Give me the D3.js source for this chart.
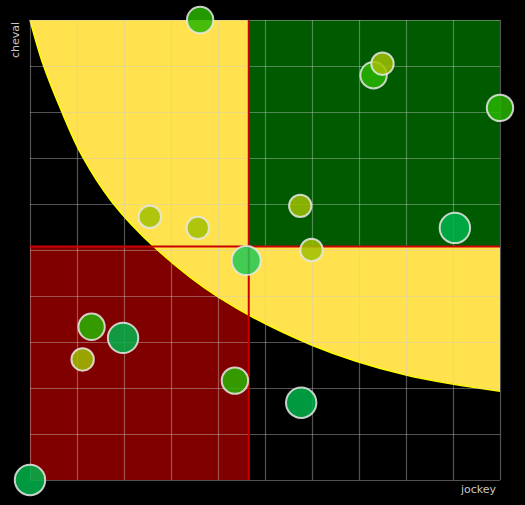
<!DOCTYPE html>
<html>
<head>
<meta charset="utf-8">
<script src="https://cdn.jsdelivr.net/npm/d3@7/dist/d3.min.js"></script>
<style>
  html, body { margin: 0; padding: 0; background: #000; }
  svg { display: block; }
</style>
</head>
<body>
<svg id="chart" width="525" height="505"></svg>
<script>
// ---- data ----
const jockey = [3.62, 2.55, 3.57, 4.60, 1.31, 1.98, 1.12, 4.36, 0.00, 5.77, 5.99, 5.75, 9.04, 10.00, 7.31, 7.50];
const cheval = [10.00, 5.72, 5.48, 4.77, 3.33, 3.09, 2.62, 2.16, 0.00, 1.68, 5.00, 5.96, 5.48, 8.09, 8.80, 9.05];
const groupe = ["moyen", "faible", "faible", "top", "moyen", "fort", "faible", "moyen", "fort", "fort", "faible", "faible", "fort", "moyen", "moyen", "faible"];
const groupes = ["faible", "moyen", "fort", "top"];

// yellow frontier (jockey, cheval)
const frontierJockey = [0, 0.28, 0.67, 1.10, 1.74, 2.66, 4.00, 6.00, 8.00, 10.00];
const frontierCheval = [10, 9.03, 8.02, 7.06, 6.05, 5.05, 3.98, 2.93, 2.28, 1.93];

const axisTicks = [0, 1, 2, 3, 4, 5, 6, 7, 8, 9, 10];

(function () {
// ---- layout ----
const svg = d3.select("#chart");
const mL = 30, mR = 500, mT = 20, mB = 480;
const x = d3.scaleLinear().domain([0, 10]).range([mL, mR]);
const y = d3.scaleLinear().domain([0, 10]).range([mB, mT]);
const rScale = d3.scaleOrdinal().domain(groupes).range([11.2, 13.2, 15.2, 14.5]);
const cScale = d3.scaleOrdinal().domain(groupes).range(["#a0c000", "#28b400", "#00b44a", "#22c855"]);

const points = jockey.map((j, i) => ({ j, c: cheval[i], g: groupe[i] }));
const meanJ = d3.mean(jockey), meanC = d3.mean(cheval);

svg.append("rect").attr("width", 525).attr("height", 505).attr("fill", "#000");

// red quadrant (bottom-left)
svg.append("rect")
  .attr("x", x(0)).attr("y", y(meanC))
  .attr("width", x(meanJ) - x(0)).attr("height", y(0) - y(meanC))
  .attr("fill", "#800000");

// yellow zone
const frontier = frontierJockey.map((j, i) => [j, frontierCheval[i]]);
const curve = d3.curveCatmullRom.alpha(0.5);
const areaGen = d3.area().x(d => x(d[0])).y0(y(10)).y1(d => y(d[1])).curve(curve);
svg.append("path").datum(frontier).attr("d", areaGen).attr("fill", "#ffe24d");
const lineGen = d3.line().x(d => x(d[0])).y(d => y(d[1])).curve(curve);
svg.append("path").datum(frontier).attr("d", lineGen)
  .attr("fill", "none").attr("stroke", "#ffff00").attr("stroke-width", 1.5);

// green quadrant (top-right)
svg.append("rect")
  .attr("x", x(meanJ)).attr("y", y(10))
  .attr("width", x(10) - x(meanJ)).attr("height", y(meanC) - y(10))
  .attr("fill", "#005a00");

// grid via axes
const gx = svg.append("g").attr("transform", `translate(0,${mB})`)
  .call(d3.axisBottom(x).tickValues(axisTicks).tickSize(-(mB - mT)).tickFormat(""));
const gy = svg.append("g").attr("transform", `translate(${mL},0)`)
  .call(d3.axisLeft(y).tickValues(axisTicks).tickSize(-(mR - mL)).tickFormat(""));
[gx, gy].forEach(g => {
  g.select(".domain").remove();
  g.selectAll(".tick line").attr("stroke", "#cccccc").attr("stroke-opacity", 0.4).attr("stroke-width", 1.2);
});

// red mean lines
svg.append("line").attr("x1", x(meanJ)).attr("x2", x(meanJ)).attr("y1", y(10)).attr("y2", y(0))
  .attr("stroke", "#cc0000").attr("stroke-width", 2);
svg.append("line").attr("x1", x(0)).attr("x2", x(10)).attr("y1", y(meanC)).attr("y2", y(meanC))
  .attr("stroke", "#cc0000").attr("stroke-width", 2);

// circles
svg.append("g").selectAll("circle").data(points).join("circle")
  .attr("cx", d => x(d.j)).attr("cy", d => y(d.c))
  .attr("r", d => rScale(d.g))
  .attr("fill", d => cScale(d.g)).attr("fill-opacity", 0.85)
  .attr("stroke", "#e8e8e8").attr("stroke-opacity", 0.85).attr("stroke-width", 2);

// labels
svg.append("text").text("cheval")
  .attr("transform", `translate(19,22) rotate(-90)`)
  .attr("text-anchor", "end").attr("fill", "#c8c8c8")
  .style("font-family", "'DejaVu Sans', sans-serif").style("font-size", "11px");
svg.append("text").text("jockey")
  .attr("x", 496).attr("y", 493)
  .attr("text-anchor", "end").attr("fill", "#c8c8c8")
  .style("font-family", "'DejaVu Sans', sans-serif").style("font-size", "11px");
})();
</script>
</body>
</html>
